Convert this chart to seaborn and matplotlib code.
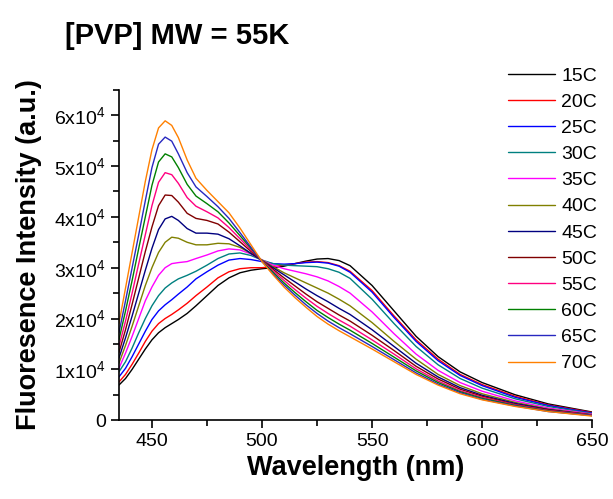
import numpy as np
import pandas as pd
import matplotlib
matplotlib.use("Agg")
import matplotlib.pyplot as plt
import seaborn as sns
from matplotlib.ticker import MultipleLocator, FuncFormatter

sns.set_style("ticks")
plt.rcParams['font.family'] = ['Liberation Sans', 'DejaVu Sans']
plt.rcParams['mathtext.fontset'] = 'custom'
plt.rcParams['mathtext.rm'] = 'Liberation Sans'
plt.rcParams['mathtext.default'] = 'regular'
for k in ['text.color', 'axes.labelcolor', 'xtick.color', 'ytick.color', 'axes.edgecolor']:
    plt.rcParams[k] = 'black'

# wavelength grid (nm)
wavelength = [435, 438, 441, 444, 447, 450, 453, 456, 459, 462, 466, 470, 475, 480,
              485, 490, 495, 500, 505, 510, 515, 520, 525, 530, 535, 540, 550, 560,
              570, 580, 590, 600, 615, 630, 650]

temps = ['15C', '20C', '25C', '30C', '35C', '40C', '45C', '50C', '55C', '60C', '65C', '70C']

# intensities in units of 1e4 (a.u.)
i15 = [0.69, 0.82, 1.00, 1.20, 1.40, 1.58, 1.72, 1.82, 1.90, 1.98, 2.10, 2.25, 2.45, 2.65,
       2.80, 2.90, 2.95, 2.98, 3.00, 3.03, 3.08, 3.13, 3.17, 3.18, 3.14, 3.04, 2.65, 2.15,
       1.65, 1.25, 0.95, 0.74, 0.50, 0.32, 0.16]
i20 = [0.75, 0.90, 1.10, 1.32, 1.55, 1.75, 1.90, 2.00, 2.08, 2.17, 2.30, 2.45, 2.62, 2.80,
       2.92, 2.98, 3.00, 3.00, 3.02, 3.05, 3.08, 3.11, 3.12, 3.10, 3.04, 2.93, 2.55, 2.05,
       1.58, 1.20, 0.90, 0.70, 0.47, 0.30, 0.15]
i25 = [0.85, 1.02, 1.25, 1.50, 1.75, 1.98, 2.15, 2.27, 2.37, 2.48, 2.62, 2.78, 2.92, 3.05,
       3.15, 3.18, 3.16, 3.12, 3.08, 3.07, 3.08, 3.10, 3.11, 3.09, 3.03, 2.91, 2.52, 2.02,
       1.55, 1.17, 0.88, 0.68, 0.45, 0.29, 0.14]
i30 = [0.95, 1.15, 1.42, 1.72, 2.00, 2.25, 2.45, 2.60, 2.70, 2.78, 2.85, 2.93, 3.05, 3.18,
       3.27, 3.29, 3.24, 3.15, 3.08, 3.05, 3.04, 3.03, 3.02, 2.98, 2.91, 2.79, 2.38, 1.90,
       1.45, 1.09, 0.82, 0.63, 0.42, 0.27, 0.13]
i35 = [1.02, 1.32, 1.65, 2.00, 2.35, 2.62, 2.85, 3.00, 3.08, 3.10, 3.12, 3.18, 3.25, 3.33,
       3.37, 3.35, 3.27, 3.15, 3.05, 2.98, 2.93, 2.88, 2.82, 2.74, 2.63, 2.50, 2.13, 1.70,
       1.30, 0.98, 0.74, 0.57, 0.38, 0.24, 0.12]
i40 = [1.12, 1.47, 1.85, 2.25, 2.65, 3.00, 3.30, 3.50, 3.60, 3.58, 3.50, 3.45, 3.45, 3.48,
       3.47, 3.40, 3.28, 3.15, 3.02, 2.90, 2.80, 2.70, 2.60, 2.50, 2.38, 2.25, 1.92, 1.55,
       1.20, 0.90, 0.68, 0.52, 0.35, 0.22, 0.11]
i45 = [1.22, 1.62, 2.05, 2.50, 2.95, 3.38, 3.75, 3.96, 4.01, 3.93, 3.77, 3.68, 3.68, 3.66,
       3.57, 3.43, 3.28, 3.14, 3.00, 2.86, 2.72, 2.58, 2.45, 2.33, 2.20, 2.08, 1.78, 1.45,
       1.12, 0.85, 0.64, 0.49, 0.33, 0.21, 0.10]
i50 = [1.33, 1.78, 2.28, 2.80, 3.32, 3.80, 4.22, 4.43, 4.42, 4.29, 4.07, 3.97, 3.93, 3.86,
       3.70, 3.51, 3.32, 3.14, 2.97, 2.80, 2.64, 2.48, 2.33, 2.20, 2.07, 1.95, 1.67, 1.37,
       1.06, 0.81, 0.61, 0.47, 0.31, 0.20, 0.10]
i55 = [1.45, 1.95, 2.50, 3.08, 3.65, 4.22, 4.68, 4.87, 4.83, 4.66, 4.38, 4.21, 4.10, 3.98,
       3.79, 3.57, 3.35, 3.14, 2.94, 2.75, 2.57, 2.40, 2.24, 2.10, 1.97, 1.85, 1.58, 1.30,
       1.01, 0.77, 0.58, 0.45, 0.30, 0.19, 0.10]
i60 = [1.58, 2.15, 2.75, 3.38, 4.00, 4.62, 5.08, 5.24, 5.18, 4.97, 4.64, 4.41, 4.26, 4.10,
       3.88, 3.63, 3.38, 3.13, 2.91, 2.70, 2.51, 2.33, 2.16, 2.02, 1.89, 1.77, 1.51, 1.24,
       0.97, 0.74, 0.56, 0.43, 0.29, 0.18, 0.09]
i65 = [1.72, 2.35, 3.00, 3.65, 4.32, 4.97, 5.43, 5.57, 5.49, 5.24, 4.87, 4.59, 4.40, 4.20,
       3.97, 3.69, 3.40, 3.12, 2.88, 2.66, 2.46, 2.27, 2.10, 1.95, 1.82, 1.70, 1.45, 1.19,
       0.93, 0.71, 0.54, 0.41, 0.28, 0.17, 0.09]
i70 = [1.90, 2.60, 3.30, 4.00, 4.70, 5.32, 5.75, 5.89, 5.80, 5.56, 5.12, 4.76, 4.52, 4.30,
       4.08, 3.78, 3.45, 3.12, 2.86, 2.62, 2.41, 2.22, 2.04, 1.89, 1.76, 1.64, 1.40, 1.15,
       0.90, 0.69, 0.52, 0.40, 0.27, 0.17, 0.08]

series = [i15, i20, i25, i30, i35, i40, i45, i50, i55, i60, i65, i70]
colors = ['#000000', '#FF0000', '#0000FF', '#008080', '#FF00FF', '#808000',
          '#000080', '#800000', '#FF0080', '#008000', '#2828C0', '#FF8000']

rows = []
for t, vals in zip(temps, series):
    for w, v in zip(wavelength, vals):
        rows.append((w, v * 1e4, t))
df = pd.DataFrame(rows, columns=['wl', 'I', 'T'])

fig = plt.figure(figsize=(6.13, 4.99), dpi=100)
ax = fig.add_axes([0.194, 0.158, 0.772, 0.662])

sns.lineplot(data=df, x='wl', y='I', hue='T', hue_order=temps,
             palette=dict(zip(temps, colors)), estimator=None, sort=False,
             linewidth=1.0, ax=ax)

ax.set_xlim(435, 650)
ax.set_ylim(0, 6.5e4)
ax.xaxis.set_major_locator(MultipleLocator(50))
ax.xaxis.set_minor_locator(MultipleLocator(25))
ax.yaxis.set_major_locator(MultipleLocator(1e4))
ax.yaxis.set_minor_locator(MultipleLocator(5e3))


def yfmt(v, pos):
    n = int(round(v / 1e4))
    return '0' if n == 0 else f'{n}x10$^{{4}}$'


ax.yaxis.set_major_formatter(FuncFormatter(yfmt))
ax.tick_params(which='major', length=6, width=1.2, labelsize=14, direction='out')
ax.tick_params(which='minor', length=4, width=1.2, direction='out')
for s in ['left', 'bottom']:
    ax.spines[s].set_linewidth(1.2)
sns.despine(ax=ax)

ax.set_xlabel('Wavelength (nm)', fontsize=19.5, fontweight='bold', labelpad=3)
ax.set_ylabel('Fluoresence Intensity (a.u.)', fontsize=19.5, fontweight='bold', labelpad=9)
fig.text(0.106, 0.912, '[PVP] MW = 55K', fontsize=21, fontweight='bold')

leg = ax.legend(frameon=False, loc='upper left', bbox_to_anchor=(508 / 613, 1 - 67 / 499),
                bbox_transform=fig.transFigure, borderaxespad=0, borderpad=0,
                fontsize=14, handlelength=2.4, handletextpad=0.35, labelspacing=0.44)
for line in leg.get_lines():
    line.set_linewidth(1.0)

fig.savefig('out.png', dpi=100)
